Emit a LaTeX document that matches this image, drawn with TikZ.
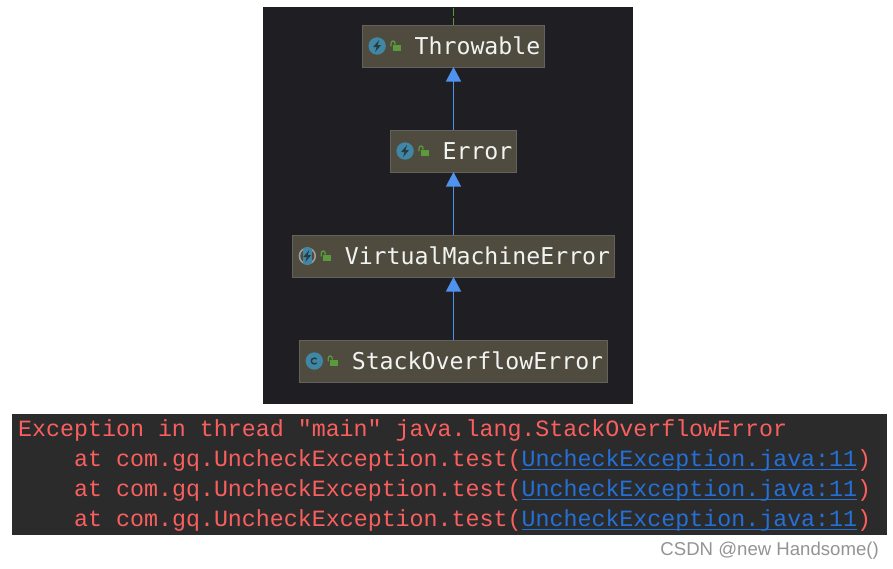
\documentclass[tikz,border=0pt]{standalone}
\usepackage{fontspec}
\usepackage{xcolor}
\usetikzlibrary{positioning,arrows.meta}
\newfontfamily\ideafont{DejaVu Sans Mono}
\newfontfamily\consolefont{Liberation Mono}
\setmainfont{Liberation Sans}
\definecolor{panel}{HTML}{1F1E23}
\definecolor{boxfill}{HTML}{4F4B3F}
\definecolor{boxline}{HTML}{63625F}
\definecolor{boxtext}{HTML}{F2F4F2}
\definecolor{ball}{HTML}{3F87A5}
\definecolor{glyph}{HTML}{2B3A42}
\definecolor{lockgreen}{HTML}{5A9A3C}
\definecolor{extendblue}{HTML}{4F93EE}
\definecolor{console}{HTML}{2B2B2B}
\definecolor{errorred}{HTML}{F95F5F}
\definecolor{linkblue}{HTML}{2470D6}
\newcommand{\linkrun}[1]{\setbox0\hbox{#1}\rlap{\rule[-3.2pt]{\wd0}{1.1pt}}\box0}
\tikzset{
    class-box/.style = {draw=boxline, fill=boxfill, line width=1pt, rectangle, outer sep=0pt, inner xsep=4pt, inner ysep=0pt,
        minimum height=42pt, text=boxtext, font=\ideafont\fontsize{23.2}{28}\selectfont, execute at begin node={\hspace*{48pt}}},
    extends/.style = {draw=extendblue, line width=1.2pt, -{Triangle[length=14.5pt,width=15pt,fill=extendblue]}},
    stack-line/.style = {anchor=base west, inner sep=0pt, text=errorred, font=\consolefont\fontsize{23.3}{28}\selectfont},
    bolt-ball/.pic = {
        \fill[ball] (14.5,0) circle (8.7);
        \fill[glyph] (16.5,-6) -- (10.5,1) -- (14,1) -- (12.5,6) -- (18.5,-1) -- (15,-1) -- cycle;
    },
    abstract-ball/.pic = {
        \fill[gray!75] (14.5,0) circle (8.7);
        \fill[boxfill] (14.5,0) circle (7);
        \begin{scope}
            \clip (14.5,0) circle (8.7);
            \fill[ball] (9.8,-8.7) rectangle (19.2,8.7);
        \end{scope}
        \fill[glyph] (16.5,-6) -- (10.5,1) -- (14,1) -- (12.5,6) -- (18.5,-1) -- (15,-1) -- cycle;
    },
    class-ball/.pic = {
        \fill[ball] (14.5,0) circle (8.7);
        \draw[glyph, line width=1.4pt] (16.8,1.9) arc (40:320:3);
    },
    open-lock/.pic = {
        \fill[lockgreen] (30,-1.3) rectangle (38.5,4.7);
        \draw[lockgreen, line width=1.3pt] (28.4,0.3) -- (28.4,-2.6) .. controls (28.4,-5.8) and (32.4,-5.8) .. (32.4,-2.6) -- (32.4,-1.3);
    },
}

\begin{document}
\begin{tikzpicture}[x=1pt, y=-1pt]
\useasboundingbox (0,0) rectangle (893,568);
\fill[panel] (263,7) rectangle (633,404);

\node[class-box] (stackoverflow) at (453.5,361) {StackOverflowError};
\node[class-box, above=63pt of stackoverflow] (virtualmachine) {VirtualMachineError};
\node[class-box, above=63pt of virtualmachine] (error) {Error};
\node[class-box, above=63pt of error] (throwable) {Throwable};
\coordinate (above-throwable) at (453.5,8);

\draw[extends] (stackoverflow) -- (virtualmachine);
\draw[extends] (virtualmachine) -- (error);
\draw[extends] (error) -- (throwable);
\draw[lockgreen, line width=1.2pt, dash pattern=on 7.5pt off 2.5pt] (above-throwable) -- (throwable);

\pic at (throwable.west) {bolt-ball};
\pic at (error.west) {bolt-ball};
\pic at (virtualmachine.west) {abstract-ball};
\pic at (stackoverflow.west) {class-ball};
\foreach \nm in {throwable,error,virtualmachine,stackoverflow}
    \pic at (\nm.west) {open-lock};

\fill[console] (12,414) rectangle (887,535);
\node[stack-line] (headline) at (18,436.5) {Exception in thread "main" java.lang.StackOverflowError};
\foreach \row/\y in {one/466.5,two/496.5,three/526.5}
    \node[stack-line] (frame-\row) at (74,\y) {at com.gq.UncheckException.test({\color{linkblue}\linkrun{UncheckException.java:11}})};

\node[anchor=base east, inner sep=0pt, text=gray!85, font=\fontsize{18.6}{20}\selectfont] (watermark) at (879,555) {CSDN @new Handsome()};
\end{tikzpicture}
\end{document}
